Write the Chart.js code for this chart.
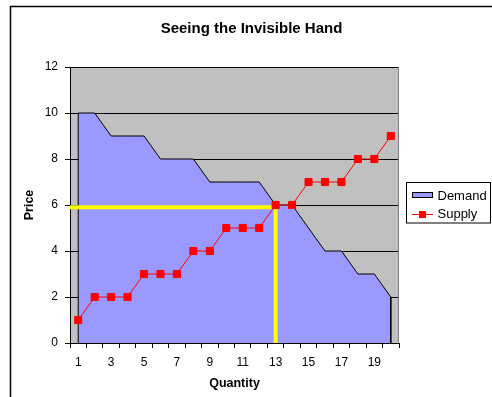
<!DOCTYPE html>
<html>
<head>
<meta charset="utf-8">
<title>Seeing the Invisible Hand</title>
<script src="https://cdn.jsdelivr.net/npm/chart.js@4/dist/chart.umd.min.js"></script>
<style>
  html, body { margin: 0; padding: 0; background: #ffffff; }
  #wrap { position: relative; width: 492px; height: 397px; }
</style>
</head>
<body>
<div id="wrap"><canvas id="chart" width="492" height="397"></canvas></div>
<script>
// Market schedule: quantity (units) with the demand and supply price at each.
const quantities = [1, 2, 3, 4, 5, 6, 7, 8, 9, 10, 11, 12, 13, 14, 15, 16, 17, 18, 19, 20];
const demandPrices = [10, 10, 9, 9, 9, 8, 8, 8, 7, 7, 7, 7, 6, 6, 5, 4, 4, 3, 3, 2];
const supplyPrices = [1, 2, 2, 2, 3, 3, 3, 4, 4, 5, 5, 5, 6, 6, 7, 7, 7, 8, 8, 9];
const priceRange = [0, 12];
const priceStep = 2;
// Equilibrium guide: price level and quantity where the curves meet.
const equilibriumQuantity = 13;
const equilibriumPrice = 5.9;

const FONT = '"Liberation Sans", Arial, Helvetica, sans-serif';
const PLOT_GRAY = '#C0C0C0';
const DEMAND_FILL = '#9999FF';
const SUPPLY_RED = '#FF0000';
const GUIDE_YELLOW = '#FFFF00';

// Demand area: closed down to zero at both ends so the side edges get a border.
const demandPoints = [{ x: quantities[0], y: 0 }]
  .concat(quantities.map((q, i) => ({ x: q, y: demandPrices[i] })))
  .concat([{ x: quantities[quantities.length - 1], y: 0 }]);
const supplyPoints = quantities.map((q, i) => ({ x: q, y: supplyPrices[i] }));
const qMin = quantities[0] - 0.5;
const qMax = quantities[quantities.length - 1] + 0.5;
const guidePoints = [
  { x: qMin, y: equilibriumPrice },
  { x: equilibriumQuantity, y: equilibriumPrice },
  { x: equilibriumQuantity, y: 0 }
];

// Gray plot background, outer frame, heading and boxed legend.
const decor = {
  id: 'decor',
  beforeDraw(chart) {
    const { ctx, chartArea: a } = chart;
    ctx.save();
    ctx.fillStyle = '#ffffff';
    ctx.fillRect(0, 0, chart.width, chart.height);
    ctx.fillStyle = PLOT_GRAY;
    ctx.fillRect(a.left, a.top, a.right - a.left, a.bottom - a.top);
    ctx.restore();
  },
  afterDraw(chart) {
    const { ctx, chartArea: a } = chart;
    ctx.save();
    // plot area right edge
    ctx.strokeStyle = '#808080';
    ctx.lineWidth = 1;
    ctx.beginPath();
    ctx.moveTo(Math.round(a.right) - 0.5, a.top);
    ctx.lineTo(Math.round(a.right) - 0.5, a.bottom);
    ctx.stroke();

    // outer chart frame
    ctx.strokeStyle = '#000000';
    ctx.lineWidth = 1.5;
    ctx.beginPath();
    ctx.moveTo(10.5, chart.height);
    ctx.lineTo(10.5, 6.5);
    ctx.lineTo(chart.width, 6.5);
    ctx.stroke();

    // heading
    ctx.fillStyle = '#000000';
    ctx.font = 'bold 15px ' + FONT;
    ctx.textAlign = 'center';
    ctx.textBaseline = 'alphabetic';
    ctx.fillText('Seeing the Invisible Hand', 251.5, 33);

    // legend
    const lx = 406.5, ly = 182.5, lw = 84, lh = 40.5;
    ctx.fillStyle = '#ffffff';
    ctx.fillRect(lx, ly, lw, lh);
    ctx.strokeStyle = '#000000';
    ctx.lineWidth = 1;
    ctx.strokeRect(lx, ly, lw, lh);

    const ds = chart.data.datasets;
    ctx.font = '13px ' + FONT;
    ctx.textAlign = 'left';
    ctx.textBaseline = 'middle';

    // Demand entry
    ctx.fillStyle = ds[0].backgroundColor;
    ctx.fillRect(412.5, 192.5, 20, 5);
    ctx.strokeStyle = '#000000';
    ctx.strokeRect(412.5, 192.5, 20, 5);
    ctx.fillStyle = '#000000';
    ctx.fillText(ds[0].label, 437.5, 196);

    // Supply entry
    ctx.strokeStyle = ds[1].borderColor;
    ctx.beginPath();
    ctx.moveTo(412, 214.5);
    ctx.lineTo(433, 214.5);
    ctx.stroke();
    ctx.fillStyle = ds[1].pointBackgroundColor;
    ctx.fillRect(419, 211, 7, 7);
    ctx.fillStyle = '#000000';
    ctx.fillText(ds[1].label, 437.5, 214.5);
    ctx.restore();
  }
};

new Chart(document.getElementById('chart'), {
  type: 'line',
  data: {
    labels: quantities.map(String),
    datasets: [
      {
        label: 'Demand',
        data: demandPoints,
        xAxisID: 'q',
        backgroundColor: DEMAND_FILL,
        borderColor: '#000000',
        borderWidth: 1,
        fill: 'origin',
        pointRadius: 0,
        tension: 0,
        order: 3
      },
      {
        label: 'Supply',
        data: supplyPoints,
        xAxisID: 'q',
        borderColor: SUPPLY_RED,
        borderWidth: 1,
        pointStyle: 'rect',
        pointRadius: 5,
        pointBorderWidth: 1,
        pointBackgroundColor: SUPPLY_RED,
        pointBorderColor: SUPPLY_RED,
        fill: false,
        tension: 0,
        order: 1
      },
      {
        label: 'Equilibrium',
        data: guidePoints,
        xAxisID: 'q',
        borderColor: GUIDE_YELLOW,
        borderWidth: 4,
        borderJoinStyle: 'miter',
        borderCapStyle: 'butt',
        pointRadius: 0,
        fill: false,
        tension: 0,
        order: 2
      }
    ]
  },
  options: {
    responsive: false,
    animation: false,
    devicePixelRatio: 1,
    layout: { padding: { top: 67, right: 93, bottom: 0, left: 0 } },
    plugins: {
      legend: { display: false },
      title: { display: false },
      tooltip: { enabled: false }
    },
    scales: {
      x: {
        type: 'category',
        offset: true,
        grid: { offset: true, drawOnChartArea: false, drawTicks: true, tickLength: 5, color: '#000000' },
        border: { color: '#000000', width: 1 },
        ticks: {
          autoSkip: false,
          maxRotation: 0,
          padding: 7,
          color: '#000000',
          font: { family: FONT, size: 12 },
          callback(value, index) { return index % 2 === 0 ? this.getLabelForValue(value) : ''; }
        },
        title: {
          display: true,
          text: 'Quantity',
          color: '#000000',
          font: { family: FONT, size: 12.5, weight: 'bold' },
          padding: { top: 0, bottom: 6 }
        },
        afterFit(scale) { scale.height = 54; }
      },
      q: {
        type: 'linear',
        display: false,
        min: qMin,
        max: qMax
      },
      y: {
        min: priceRange[0],
        max: priceRange[1],
        ticks: {
          stepSize: priceStep,
          padding: 7,
          color: '#000000',
          font: { family: FONT, size: 12 }
        },
        grid: { color: '#000000', lineWidth: 1, tickLength: 5, drawTicks: true },
        border: { color: '#000000', width: 1 },
        title: {
          display: true,
          text: 'Price',
          color: '#000000',
          font: { family: FONT, size: 12.5, weight: 'bold' },
          padding: { top: 22.5, bottom: 0 }
        },
        afterFit(scale) { scale.width = 70; }
      }
    }
  },
  plugins: [decor]
});
</script>
</body>
</html>
